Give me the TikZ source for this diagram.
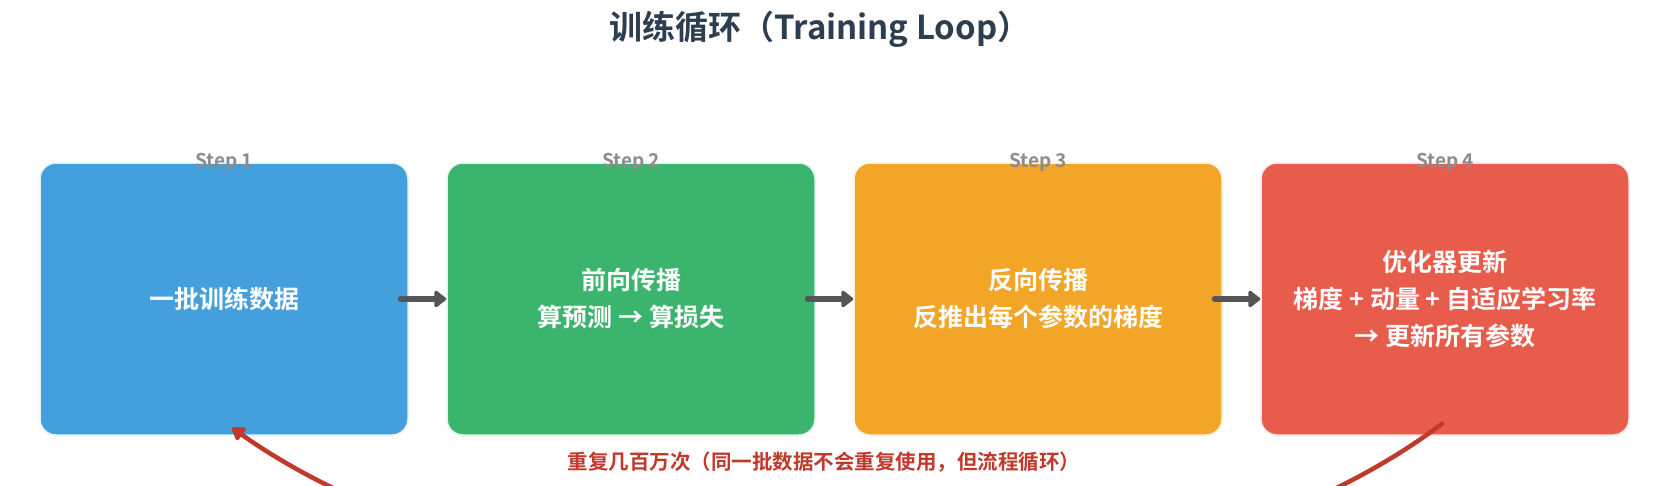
\documentclass[tikz,border=0pt]{standalone}
\usepackage{fontspec}
\setmainfont{Noto Sans CJK SC}[BoldFont={* Bold}]
\usetikzlibrary{arrows.meta}

\definecolor{titlecol}{HTML}{2C3E50}
\definecolor{stepgray}{HTML}{8C8C8C}
\definecolor{databoxcol}{HTML}{44A0DC}
\definecolor{fwdboxcol}{HTML}{3BB56E}
\definecolor{bwdboxcol}{HTML}{F3A528}
\definecolor{optboxcol}{HTML}{E85C4C}
\definecolor{flowgray}{HTML}{555555}
\definecolor{loopred}{HTML}{C0392B}

\tikzset{
  stagebox/.style={rounded corners=16pt, minimum width=368pt, minimum height=272pt,
    inner sep=0pt, align=center, text=white, line width=1.5pt,
    font=\fontsize{25pt}{37pt}\selectfont\bfseries},
  steplabel/.style={anchor=base, text=stepgray, inner sep=0pt,
    font=\fontsize{19pt}{22pt}\selectfont\bfseries},
  flow/.style={line width=6pt, line cap=round, flowgray,
    -{Triangle[length=13pt, width=19pt, round]}},
  repeatloop/.style={line width=4.5pt, line cap=round, loopred,
    -{Triangle[length=14pt, width=17pt, round]}}
}

\begin{document}
\begin{tikzpicture}[x=1pt, y=-1pt]
\useasboundingbox (0,0) rectangle (1657,485);
\clip (0,0) rectangle (1657,485);

% Title
\node[text=titlecol, font=\fontsize{33pt}{38pt}\selectfont\bfseries] (title) at (820,29)
  {训练循环（Training Loop）};

% Stages
\node[stagebox, fill=databoxcol, draw=databoxcol!15] (data) at (224,299)
  {一批训练数据};
\node[stagebox, fill=fwdboxcol, draw=fwdboxcol!15] (forward) at (631,299)
  {前向传播\\算预测 → 算损失};
\node[stagebox, fill=bwdboxcol, draw=bwdboxcol!15] (backward) at (1038,299)
  {反向传播\\反推出每个参数的梯度};
\node[stagebox, fill=optboxcol, draw=optboxcol!15] (optimizer) at (1445,299)
  {优化器更新\\梯度 + 动量 + 自适应学习率\\→ 更新所有参数};

% Step labels
\node[steplabel] (step1) at ([yshift=-5pt]data.north) {Step 1};
\node[steplabel] (step2) at ([yshift=-5pt]forward.north) {Step 2};
\node[steplabel] (step3) at ([yshift=-5pt]backward.north) {Step 3};
\node[steplabel] (step4) at ([yshift=-5pt]optimizer.north) {Step 4};

% Flow between stages
\draw[flow] ([xshift=-8pt]data.east) -- (forward.west);
\draw[flow] ([xshift=-8pt]forward.east) -- (backward.west);
\draw[flow] ([xshift=-8pt]backward.east) -- (optimizer.west);

% Repeat note
\node[text=loopred, font=\fontsize{20.5pt}{24pt}\selectfont\bfseries] (note) at (824,462)
  {重复几百万次（同一批数据不会重复使用，但流程循环）};

% Loop back
\draw[repeatloop] ([xshift=-3pt, yshift=12pt]optimizer.south)
  .. controls (1142,650) and (532,640) .. ([xshift=8pt, yshift=8pt]data.south);
\end{tikzpicture}
\end{document}
